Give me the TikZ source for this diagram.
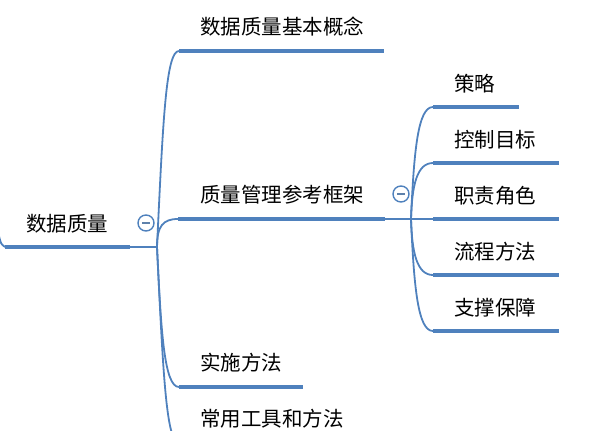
\documentclass[tikz,border=0pt]{standalone}
\usepackage{fontspec}
\setmainfont{Noto Sans CJK SC}
\usetikzlibrary{calc}
\definecolor{mmblue}{RGB}{79,129,189}
\begin{document}
\begin{tikzpicture}[x=1pt,y=-1pt,
  lbl/.style={anchor=west,inner sep=0pt,text=black,font=\fontsize{20.5}{22}\selectfont},
  bar/.style={draw=mmblue,line width=4.6pt},
  conn/.style={draw=mmblue,line width=1.8pt},
  fold/.style={circle,draw=mmblue,line width=1.4pt,minimum size=16pt,inner sep=0pt,fill=white},
  minus/.style={draw=mmblue!70!gray,line width=1.6pt}]
\useasboundingbox (0,0) rectangle (592,431);
\clip (0,0) rectangle (592,431);

% root
\coordinate (r0) at (5,247);
\coordinate (r1) at (130,247);
\coordinate (hub) at (157,247);
\coordinate (rin) at (-1,236);
\node[lbl] (root) at (26,224) {数据质量};
\draw[bar] (r0) -- (r1);
\draw[conn] (rin) .. controls (1,244) .. (r0);
\draw[conn] (r1) -- (hub);
\node[fold] (f1) at (146,223) {};
\draw[minus] ($(f1.center)+(-4,0)$) -- ($(f1.center)+(4,0)$);

% level 1
\coordinate (a0) at (179,51);  \coordinate (a1) at (384,51);
\coordinate (b0) at (178,219); \coordinate (b1) at (385,219);
\coordinate (c0) at (179,387); \coordinate (c1) at (303,387);
\coordinate (d0) at (179,443); \coordinate (d1) at (360,443);
\node[lbl] (ta) at (200,27) {数据质量基本概念};
\node[lbl] (tb) at (200,195) {质量管理参考框架};
\node[lbl] (tc) at (200,363) {实施方法};
\node[lbl] (td) at (200,419) {常用工具和方法};
\draw[bar] (a0) -- (a1);
\draw[bar] (b0) -- (b1);
\draw[bar] (c0) -- (c1);
\draw[bar] (d0) -- (d1);
\draw[conn] (hub) .. controls (163,120) and (166,51) .. (a0);
\draw[conn] (hub) .. controls (157,226) and (163,219) .. (b0);
\draw[conn] (hub) .. controls (161,330) and (164,387) .. (c0);
\draw[conn] (hub) .. controls (163,370) and (166,443) .. (d0);

% level 2
\coordinate (hub2) at (411,219);
\draw[conn] (b1) -- (hub2);
\node[fold] (f2) at (401,194) {};
\draw[minus] ($(f2.center)+(-4,0)$) -- ($(f2.center)+(4,0)$);
\coordinate (s0) at (433,107); \coordinate (s1) at (519,107);
\coordinate (k0) at (433,163); \coordinate (k1) at (559,163);
\coordinate (z0) at (433,219); \coordinate (z1) at (559,219);
\coordinate (l0) at (433,275); \coordinate (l1) at (559,275);
\coordinate (y0) at (433,331); \coordinate (y1) at (559,331);
\node[lbl] (ts) at (454,84) {策略};
\node[lbl] (tk) at (454,140) {控制目标};
\node[lbl] (tz) at (454,196) {职责角色};
\node[lbl] (tl) at (454,252) {流程方法};
\node[lbl] (ty) at (454,308) {支撑保障};
\draw[bar] (s0) -- (s1);
\draw[bar] (k0) -- (k1);
\draw[bar] (z0) -- (z1);
\draw[bar] (l0) -- (l1);
\draw[bar] (y0) -- (y1);
\draw[conn] (hub2) .. controls (414,150) and (418,107) .. (s0);
\draw[conn] (hub2) .. controls (412,185) and (417,163) .. (k0);
\draw[conn] (hub2) -- (z0);
\draw[conn] (hub2) .. controls (412,253) and (417,275) .. (l0);
\draw[conn] (hub2) .. controls (414,288) and (418,331) .. (y0);
\end{tikzpicture}
\end{document}
